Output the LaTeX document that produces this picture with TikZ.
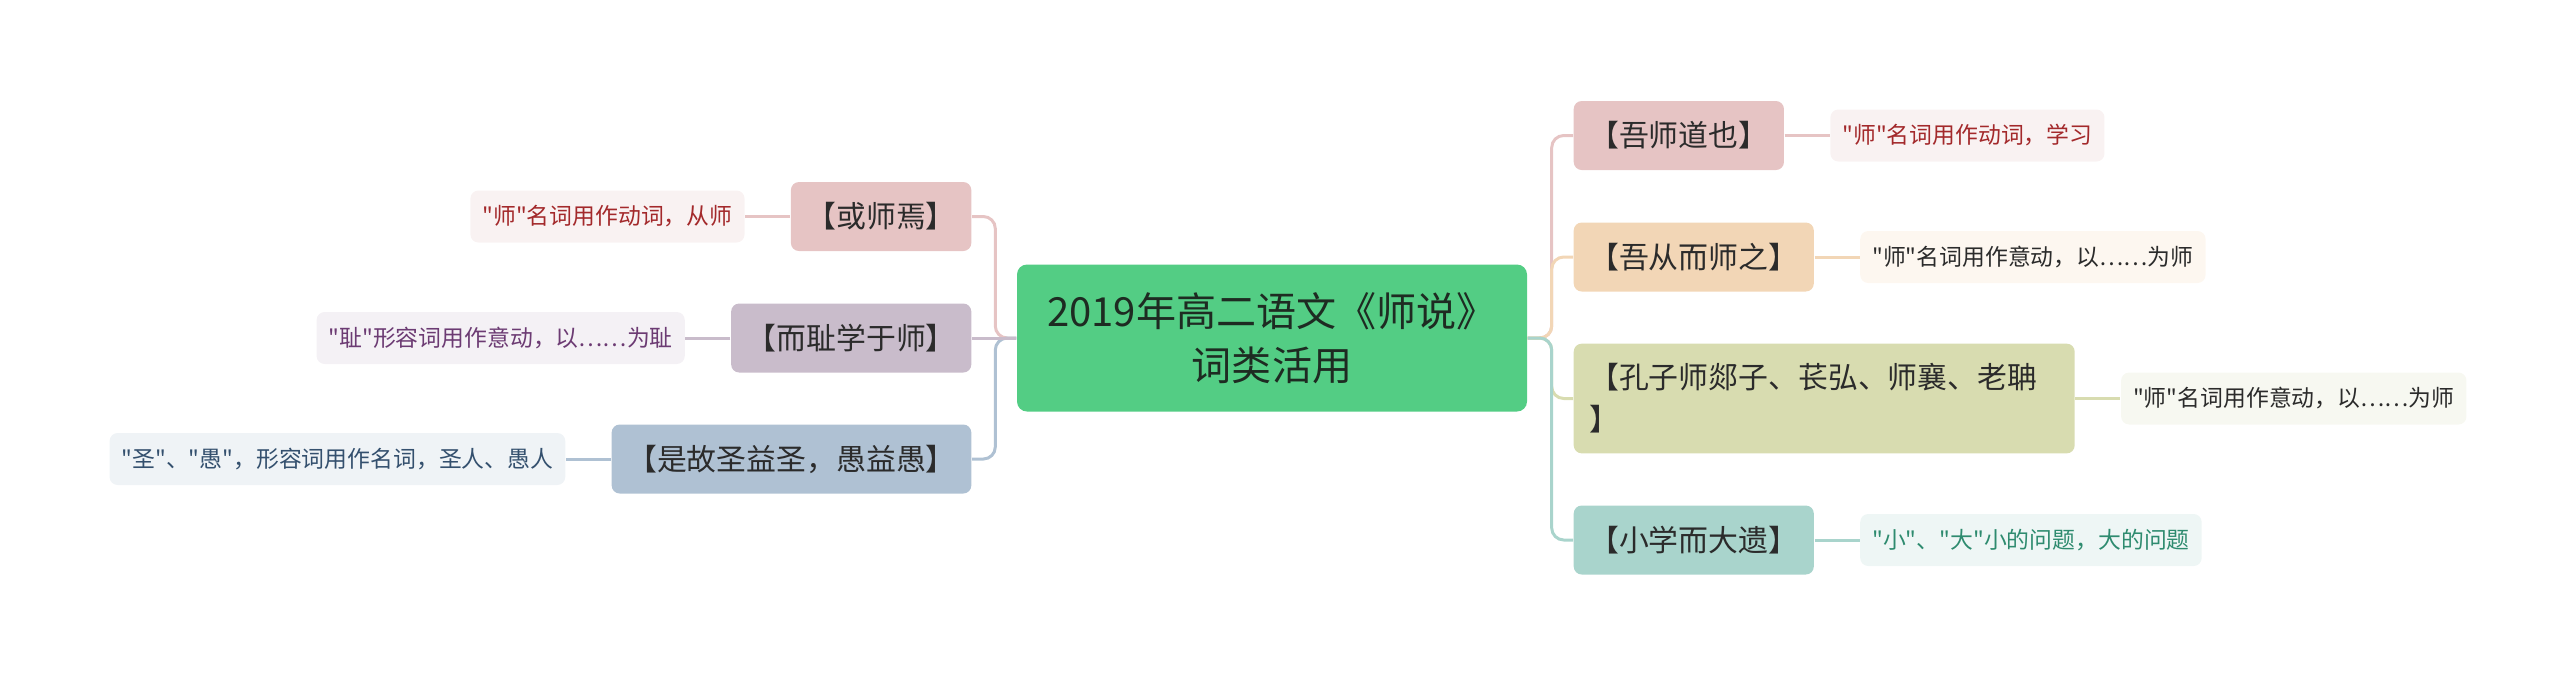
\documentclass[tikz,border=0pt]{standalone}
\usepackage{fontspec}
\setmainfont{Noto Sans CJK SC}[Ligatures=TeXOff]
\usepackage{tikz}
\usetikzlibrary{positioning}
\definecolor{rootgreen}{HTML}{53CD84}
\definecolor{rootink}{HTML}{1E2B22}
\definecolor{pinkbox}{HTML}{E6C4C4}
\definecolor{peachbox}{HTML}{F2D6B6}
\definecolor{olivebox}{HTML}{D8DCB0}
\definecolor{tealbox}{HTML}{A9D4CC}
\definecolor{mauvebox}{HTML}{C9BCCB}
\definecolor{greybox}{HTML}{AFC1D3}
\definecolor{pinkleaf}{HTML}{F9F2F2}
\definecolor{peachleaf}{HTML}{FDF7F0}
\definecolor{oliveleaf}{HTML}{F7F8F1}
\definecolor{tealleaf}{HTML}{EEF6F5}
\definecolor{mauveleaf}{HTML}{F4F1F5}
\definecolor{greyleaf}{HTML}{EFF3F6}
\definecolor{pinkink}{HTML}{A3292B}
\definecolor{tealink}{HTML}{2E8B6F}
\definecolor{mauveink}{HTML}{6C3B73}
\definecolor{greyink}{HTML}{34506E}
\definecolor{darkink}{HTML}{2B2B2B}
\tikzset{node distance=0.45cm,
  box/.style={rounded corners=0.08cm, inner xsep=0.155cm, minimum height=0.69cm,
    text=darkink, font=\fontsize{8.5}{11.9}\selectfont},
  leaf/.style={rounded corners=0.08cm, inner xsep=0.12cm, minimum height=0.52cm,
    font=\fontsize{6.5}{9}\selectfont},
  link/.style={line width=0.85pt, rounded corners=0.12cm}}

\begin{document}
\begin{tikzpicture}
\useasboundingbox (0,0) rectangle (25.6,-6.77);
\node[fill=rootgreen, rounded corners=0.1cm, minimum width=5.1cm, minimum height=1.47cm,
  align=center, text=rootink, font=\fontsize{11.4}{15.4}\selectfont] (M) at (12.72,-3.38)
  {2019年高二语文《师说》\\词类活用};
% right side
\node[box, fill=pinkbox, anchor=west] (A) at (15.73,-1.355) {【吾师道也】};
\node[box, fill=peachbox, anchor=west] (B) at (15.73,-2.57) {【吾从而师之】};
\node[box, fill=olivebox, anchor=west, align=left, text width=4.7cm, inner ysep=0.2cm]
  (C) at (15.73,-3.985) {【孔子师郯子、苌弘、师襄、老聃\\】};
\node[box, fill=tealbox, anchor=west] (D) at (15.73,-5.40) {【小学而大遗】};
% left side
\node[box, fill=pinkbox, anchor=east] (E) at (9.72,-2.165) {【或师焉】};
\node[box, fill=mauvebox, anchor=east] (F) at (9.72,-3.38) {【而耻学于师】};
\node[box, fill=greybox, anchor=east] (G) at (9.72,-4.59) {【是故圣益圣，愚益愚】};
% notes
\node[leaf, fill=pinkleaf, text=pinkink, right=of A] (a) {"师"名词用作动词，学习};
\node[leaf, fill=peachleaf, text=darkink, right=of B] (b) {"师"名词用作意动，以……为师};
\node[leaf, fill=oliveleaf, text=darkink, right=of C] (c) {"师"名词用作意动，以……为师};
\node[leaf, fill=tealleaf, text=tealink, right=of D] (d) {"小"、"大"小的问题，大的问题};
\node[leaf, fill=pinkleaf, text=pinkink, left=of E] (e) {"师"名词用作动词，从师};
\node[leaf, fill=mauveleaf, text=mauveink, left=of F] (f) {"耻"形容词用作意动，以……为耻};
\node[leaf, fill=greyleaf, text=greyink, left=of G] (g) {"圣"、"愚"，形容词用作名词，圣人、愚人};

\draw[link, draw=pinkbox] (M.east) -- ++(0.24,0) |- (A.west);
\draw[link, draw=peachbox] (M.east) -- ++(0.24,0) |- (B.west);
\draw[link, draw=olivebox] (M.east) -- ++(0.24,0) |- (C.west);
\draw[link, draw=tealbox] (M.east) -- ++(0.24,0) |- (D.west);
\draw[link, draw=pinkbox] (M.west) -- ++(-0.21,0) |- (E.east);
\draw[link, draw=greybox] (M.west) -- ++(-0.21,0) |- (G.east);
\draw[link, draw=mauvebox] (M) -- (F);
\draw[link, draw=pinkbox] (A) -- (a);
\draw[link, draw=peachbox] (B) -- (b);
\draw[link, draw=olivebox] (C) -- (c);
\draw[link, draw=tealbox] (D) -- (d);
\draw[link, draw=pinkbox] (E) -- (e);
\draw[link, draw=mauvebox] (F) -- (f);
\draw[link, draw=greybox] (G) -- (g);
\end{tikzpicture}
\end{document}
